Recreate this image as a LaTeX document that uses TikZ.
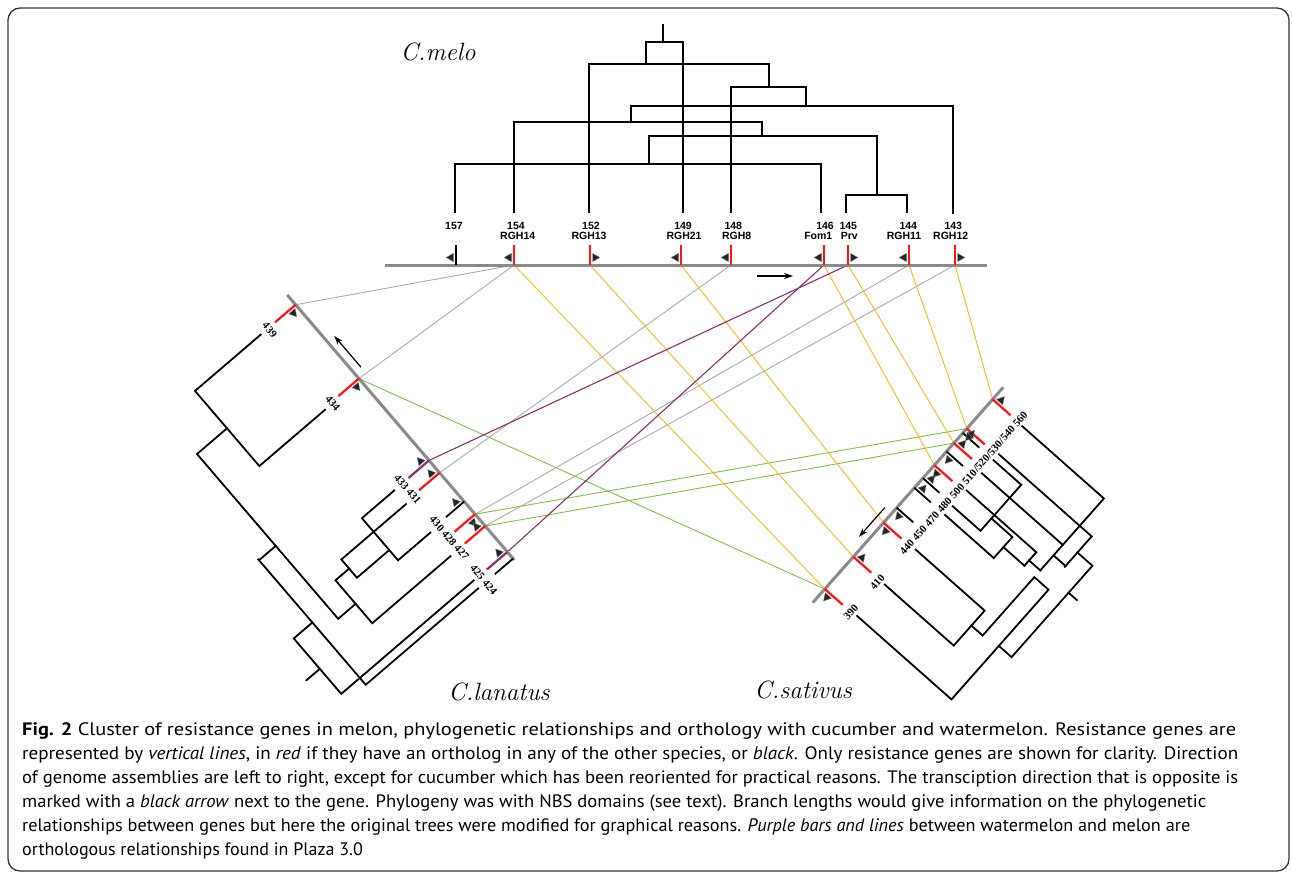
\documentclass[tikz,border=0pt]{standalone}
\usepackage{fontspec}
\usepackage{graphicx}
\usetikzlibrary{arrows.meta}
\newfontfamily\capfont{PT Sans}
\newfontfamily\mlab{Liberation Sans}
\newfontfamily\slab{Liberation Serif}
\definecolor{gline}{HTML}{8A8A8A}
\definecolor{cgray}{HTML}{ABABAB}
\definecolor{cyel}{HTML}{F5B820}
\definecolor{cgrn}{HTML}{7DC243}
\definecolor{cpur}{HTML}{8E2D6E}
\definecolor{tickred}{HTML}{FF1414}
\newcommand\trL[2]{\fill[tri] (#1-10,#2) -- (#1-2.5,#2+4.2) -- (#1-2.5,#2-4.2) -- cycle;}
\newcommand\trR[2]{\fill[tri] (#1+10,#2) -- (#1+2.5,#2+4.2) -- (#1+2.5,#2-4.2) -- cycle;}
\begin{document}
\begin{tikzpicture}[x=1pt,y=-1pt,
 lanat/.style={x={(0.6506pt,-0.7595pt)},y={(-0.7595pt,-0.6506pt)},shift={(287.3pt,-295pt)}},
 sativ/.style={x={(0.6627pt,0.749pt)},y={(0.749pt,-0.6627pt)},shift={(812.7pt,-602.7pt)}},
 genome/.style={draw=gline,line width=3pt},
 treeln/.style={draw=black,line width=1.8pt,line cap=rect},
 redtk/.style={draw=tickred,line width=2.2pt},
 blktk/.style={draw=black,line width=1.8pt},
 purtk/.style={draw=cpur,line width=2.2pt},
 cgr/.style={draw=cgray,line width=0.9pt},
 cye/.style={draw=cyel,line width=0.9pt},
 cgn/.style={draw=cgrn,line width=0.9pt},
 cpu/.style={draw=cpur,line width=1.1pt},
 tri/.style={fill=black!85,draw=black!45,line width=0.3pt},
 mlabel/.style={inner sep=0,font=\mlab\bfseries\fontsize{10.5}{11}\selectfont},
 slabel/.style={inner sep=0,font=\slab\bfseries\fontsize{10.8}{11}\selectfont},
 species/.style={inner sep=0,font=\fontsize{25}{25}\selectfont\itshape},
 dirarrow/.style={-{Stealth[length=9pt,width=6pt]},line width=1.2pt},
 capl/.style={anchor=base west,inner sep=0,font=\capfont\fontsize{18}{24}\selectfont},
 frame/.style={draw=black!80,line width=1.3pt,rounded corners=12pt}
]
\useasboundingbox (0,0) rectangle (1292,879);
\draw[frame] (8,8) rectangle (1289,871);

% ---------- junction coordinates ----------
\coordinate (m154) at (514,265);
\coordinate (m152) at (590,265);
\coordinate (m149) at (681,265);
\coordinate (m148) at (731,265);
\coordinate (m146) at (824,265);
\coordinate (m145) at (848,265);
\coordinate (m144) at (909,265);
\coordinate (m143) at (955,265);
\begin{scope}[lanat]
 \coordinate (l439) at (12.8,0);
 \coordinate (l434) at (110,0);
 \coordinate (l433) at (217.8,0);
 \coordinate (l431) at (234,0);
 \coordinate (l430) at (271.9,0);
 \coordinate (l428) at (288.6,0);
 \coordinate (l427) at (304.2,0);
 \coordinate (l425) at (338.3,0);
 \coordinate (l424) at (347,0);
\end{scope}
\begin{scope}[sativ]
 \coordinate (c390) at (18.3,0);
 \coordinate (c410) at (61.3,0);
 \coordinate (c440) at (106.8,0);
 \coordinate (c450) at (126.8,0);
 \coordinate (c470) at (153.4,0);
 \coordinate (c480) at (166.3,0);
 \coordinate (c500) at (183.6,0);
 \coordinate (c510) at (201.9,0);
 \coordinate (c520) at (213.1,0);
 \coordinate (c530) at (226.5,0);
 \coordinate (c540) at (232.5,0);
 \coordinate (c560) at (271.5,0);
\end{scope}

% ---------- connectors ----------
\draw[cgr] (m154) -- (l439);
\draw[cgr] (m154) -- (l434);
\draw[cgr] (m148) -- (l431);
\draw[cgr] (m144) -- (l428);
\draw[cgr] (m143) -- (l427);
\draw[cgn] (l434) -- (c390);
\draw[cgn] (l428) -- (c540);
\draw[cgn] (l427) -- (c520);
\draw[cye] (m154) -- (c390);
\draw[cye] (m152) -- (c410);
\draw[cye] (m149) -- (c440);
\draw[cye] (m146) -- (c500);
\draw[cye] (m145) -- (c520);
\draw[cye] (m144) -- (c540);
\draw[cye] (m143) -- (c560);
\draw[cpu] (m145) -- (l433);
\draw[cpu] (m146) -- (l425);

% ---------- melon ----------
\coordinate (ms) at (385,265);
\coordinate (me) at (987,265);
\draw[genome] (ms) -- (me);
\draw[blktk] (456,265) -- (456,245);
\foreach \g in {514,590,681,731,824,848,909,955}{\draw[redtk] (\g,265) -- (\g,245);}
\trL{456}{257.5}\trL{514}{257.5}\trR{590}{257.5}\trL{681}{257.5}\trL{731}{257.5}
\trL{824}{257.5}\trR{848}{257.5}\trL{909}{257.5}\trR{955}{257.5}
\coordinate (ma1) at (757,276);
\coordinate (ma2) at (793,276);
\draw[dirarrow] (ma1) -- (ma2);
\node[mlabel] (t157) at (454,226) {157};
\node[mlabel] (t154) at (516,226) {154};
\node[mlabel] (n154) at (517.7,236) {RGH14};
\node[mlabel] (t152) at (591,226) {152};
\node[mlabel] (n152) at (589,236) {RGH13};
\node[mlabel] (t149) at (683,226) {149};
\node[mlabel] (n149) at (684,236) {RGH21};
\node[mlabel] (t148) at (733.3,226) {148};
\node[mlabel] (n148) at (736.7,236) {RGH8};
\node[mlabel] (t146) at (825,226) {146};
\node[mlabel] (n146) at (818.3,236) {Fom1};
\node[mlabel] (t145) at (848.3,226) {145};
\node[mlabel] (n145) at (849.3,236) {Prv};
\node[mlabel] (t144) at (908.3,226) {144};
\node[mlabel] (n144) at (904,236) {RGH11};
\node[mlabel] (t143) at (953.3,226) {143};
\node[mlabel] (n143) at (950.7,236) {RGH12};
% melon tree
\draw[treeln] (663,25) -- (663,42);
\draw[treeln] (646,64) -- (646,42) -- (683,42);
\draw[treeln,dash pattern=on 6pt off 1.2pt] (683,42) -- (683,212);
\draw[treeln] (589,64) -- (769,64) -- (769,87);
\draw[treeln,dash pattern=on 6pt off 1.2pt] (589,64) -- (589,212);
\draw[treeln] (731,212) -- (731,87) -- (806,87) -- (806,106);
\draw[treeln] (631,122) -- (631,106) -- (953,106) -- (953,213);
\draw[treeln] (514,212) -- (514,122) -- (762,122) -- (762,136);
\draw[treeln] (649,164) -- (649,136) -- (877,136) -- (877,195);
\draw[treeln] (455,212) -- (455,164) -- (821,164) -- (821,212);
\draw[treeln] (846,212) -- (846,195) -- (907,195) -- (907,212);
\node[species] (sp1) at (438,52) {C.melo};

% ---------- watermelon ----------
\begin{scope}[lanat]
 \coordinate (ls) at (0,0);
 \coordinate (le) at (348.9,0);
 \draw[genome] (ls) -- (le);
 \draw[redtk] (12.8,0) -- (12.8,27);
 \draw[redtk] (110,0) -- (110,27);
 \draw[purtk] (217.8,0) -- (217.8,27);
 \draw[redtk] (234,0) -- (234,27);
 \draw[blktk] (271.9,0) -- (271.9,24);
 \draw[redtk] (288.6,0) -- (288.6,27);
 \draw[redtk] (304.2,0) -- (304.2,27);
 \draw[purtk] (338.3,0) -- (338.3,27);
 \draw[blktk] (347,0) -- (347,24);
 \trR{12.8}{7}\trR{110}{7}\trL{217.8}{7}\trL{234}{7}\trL{271.9}{7}
 \trR{288.6}{7}\trL{304.2}{7}\trL{338.3}{7}
 \coordinate (la1) at (102.7,-9);
 \coordinate (la2) at (61.6,-9);
 \draw[dirarrow] (la1) -- (la2);
 \node[slabel,rotate=-49.4] (w439) at (15,36) {439};
 \node[slabel,rotate=-49.4] (w434) at (112,36) {434};
 \node[slabel,rotate=-49.4] (w433) at (226,35) {433 431};
 \node[slabel,rotate=-49.4] (w430) at (290,35) {430 428 427};
 \node[slabel,rotate=-49.4] (w425) at (344,36) {425 424};
 % tree
 \draw[treeln] (12.8,46) -- (12.8,132.5) -- (111.7,132.5) -- (111.7,46);
 \draw[treeln] (62,132.5) -- (62,172) -- (279,172) -- (279,149);
 \draw[treeln] (183,172) -- (183,194);
 \draw[treeln] (248,131) -- (248,149) -- (304.5,149) -- (304.5,46);
 \draw[treeln] (236,46) -- (236,131) -- (260,131) -- (260,88.5);
 \draw[treeln] (218,46) -- (218,88.5) -- (273.5,88.5) -- (273.5,46);
 \draw[treeln] (182,194) -- (347,194) -- (347,46);
 \draw[treeln] (265,194) -- (265,218.5) -- (338,218.5) -- (338,44);
 \draw[treeln] (305,218.5) -- (305,236);
\end{scope}
\node[species] (sp2) at (499,692) {C.lanatus};

% ---------- cucumber ----------
\begin{scope}[sativ]
 \coordinate (cs) at (0,0);
 \coordinate (ce) at (287.6,0);
 \draw[genome] (cs) -- (ce);
 \foreach \g in {18.3,61.3,106.8,183.6,213.1,232.5,271.5}{\draw[redtk] (\g,0) -- (\g,24);}
 \foreach \g in {126.8,153.4,166.3,201.9,226.5}{\draw[blktk] (\g,0) -- (\g,22);}
 \trL{18.3}{7}\trR{61.3}{7}\trL{106.8}{7}\trL{126.8}{7}\trR{153.4}{7}\trR{166.3}{7}
 \trL{183.6}{7}\trL{201.9}{7}\trR{213.1}{7}\trR{226.5}{7}\trL{232.5}{7}\trR{271.5}{7}
 \coordinate (ca1) at (119,-9);
 \coordinate (ca2) at (80,-9);
 \draw[dirarrow] (ca1) -- (ca2);
 \node[slabel,rotate=48.5] (k390) at (18,35) {390};
 \node[slabel,rotate=48.5] (k410) at (58.5,34.5) {410};
 \node[slabel,rotate=48.5] (k440) at (189.3,34) {440 450 470 480 500 510/520/530/540 560};
 % tree
 \draw[treeln] (19.5,42) -- (19.5,168) -- (166,168) -- (166,149) -- (88,149) -- (88,134);
 \draw[treeln] (61.3,42) -- (61.3,134) -- (108,134) -- (108,42);
 \draw[treeln] (91,168) -- (91,185) -- (213,185) -- (213,165);
 \draw[treeln] (177,185) -- (177,196);
 \draw[treeln] (194,165) -- (234.5,165) -- (234.5,41);
 \draw[treeln] (195,165) -- (195,149);
 \draw[treeln] (175,149) -- (271,149) -- (271,40);
 \draw[treeln] (209,41) -- (209,149);
 \draw[treeln] (175,149) -- (175,134);
 \draw[treeln] (168,134) -- (186,134) -- (186,41);
 \draw[treeln] (168,134) -- (168,106);
 \draw[treeln] (153.4,41) -- (153.4,106) -- (181.5,106) -- (181.5,78);
 \draw[treeln] (165,41) -- (165,78) -- (226.5,78) -- (226.5,41);
\end{scope}
\node[species] (sp3) at (803,690) {C.sativus};

% ---------- caption ----------
\node[capl] (cap1) at (22,735) {\resizebox{1214pt}{\height}{\textbf{Fig. 2} Cluster of resistance genes in melon, phylogenetic relationships and orthology with cucumber and watermelon. Resistance genes are}};
\node[capl] (cap2) at (22,759) {\resizebox{1216pt}{\height}{represented by \textit{vertical lines}, in \textit{red} if they have an ortholog in any of the other species, or \textit{black}. Only resistance genes are shown for clarity. Direction}};
\node[capl] (cap3) at (22,783) {\resizebox{1216pt}{\height}{of genome assemblies are left to right, except for cucumber which has been reoriented for practical reasons. The transciption direction that is opposite is}};
\node[capl] (cap4) at (22,807) {\resizebox{1184pt}{\height}{marked with a \textit{black arrow} next to the gene. Phylogeny was with NBS domains (see text). Branch lengths would give information on the phylogenetic}};
\node[capl] (cap5) at (22,831) {\resizebox{1168pt}{\height}{relationships between genes but here the original trees were modified for graphical reasons. \textit{Purple bars and lines} between watermelon and melon are}};
\node[capl] (cap6) at (22,855) {orthologous relationships found in Plaza 3.0};
\end{tikzpicture}
\end{document}
